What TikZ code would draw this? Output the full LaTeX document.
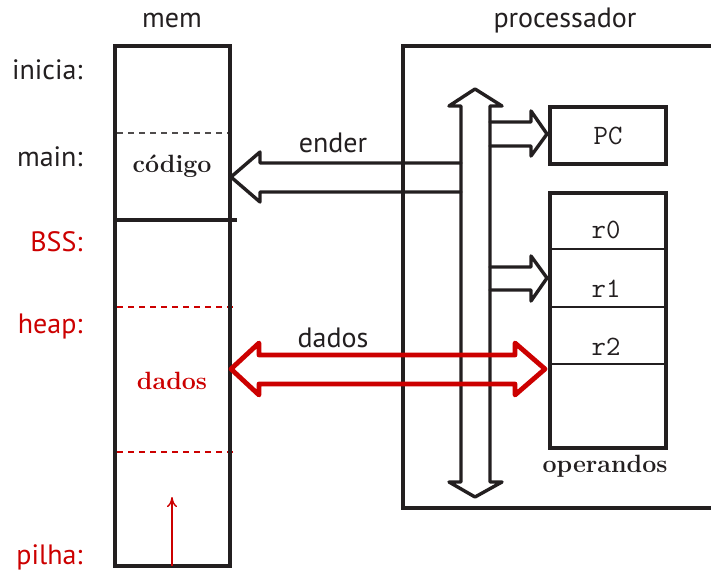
\documentclass[tikz,border=0pt]{standalone}
\usepackage{fontspec}
\setsansfont{PT Sans}
\usetikzlibrary{calc,arrows.meta}
\definecolor{ink}{RGB}{35,31,32}
\definecolor{rd}{RGB}{204,0,0}
\begin{document}
\begin{tikzpicture}[x=0.5pt,y=-0.5pt,
  lbl/.style={font=\sffamily\fontsize{14}{16}\selectfont, text=ink, inner sep=0pt},
  lblr/.style={lbl, anchor=east},
  seg/.style={font=\bfseries\fontsize{12.5}{14}\selectfont, text=ink, inner sep=0pt},
  reg/.style={font=\ttfamily\fontsize{14}{16}\selectfont, text=ink, inner sep=0pt},
  thick box/.style={draw=ink, line width=2pt},
  barrow/.style={draw=ink, line width=1.7pt, line join=round, line cap=round},
  rarrow/.style={draw=rd, line width=2.4pt, line join=round, line cap=round},
]
\useasboundingbox (0,0) rectangle (711,571);

% memory
\coordinate (memtl) at (115,46);
\coordinate (membr) at (230,566);
\draw[ink!80, line width=0.6pt, dash pattern=on 3pt off 2.5pt] (117,133) -- (228,133);
\draw[rd, line width=0.6pt, dash pattern=on 3pt off 2.5pt] (117,307) -- (234,307);
\draw[rd, line width=0.6pt, dash pattern=on 3pt off 2.5pt] (117,452) -- (236,452);
\draw[thick box, line cap=rect] (memtl) rectangle (membr);
\draw[thick box] (115,220) -- (237,220);
\coordinate (stk) at (172,566);
\coordinate (stktop) at (172,497);
\draw[rd, line width=0.7pt, -{To[length=5pt,width=5pt]}] (stk) -- (stktop);

\node[lbl] (memlbl) at (172,21) {mem};
\node[lbl] (proclbl) at (565,21) {processador};
\node[lblr] (inicia) at (83,70) {inicia:};
\node[lblr] (mainl) at (83,157) {main:};
\node[lblr, text=rd] (bss) at (83,242) {BSS:};
\node[lblr, text=rd] (heap) at (83,327) {heap:};
\node[lblr, text=rd] (pilha) at (83,557) {pilha:};
\node[seg] (codigo) at (172,166) {código};
\node[seg, text=rd] (dadosm) at (172,381) {dados};

% processor
\draw[thick box] (720,46) -- (403,46) -- (403,508) -- (720,508);
\node[thick box, minimum width=58pt, minimum height=28.5pt, inner sep=0pt, anchor=north west, reg] (pc) at (548,105) {PC};
\node[thick box, minimum width=58pt, minimum height=127.5pt, inner sep=0pt, anchor=north west] (regs) at (548,191) {};
\draw[ink, line width=1pt] (548,249) -- (664,249) (548,307) -- (664,307) (548,364) -- (664,364);
\node[reg] (r0) at (606,230) {r0};
\node[reg] (r1) at (606,289) {r1};
\node[reg] (r2) at (606,347) {r2};
\node[seg] (oper) at (605,466) {operandos};

% bus (vertical double arrow)
\draw[barrow] (461,106) -- (461,482) -- (449,482) -- (475,497) -- (502,482) -- (490,482)
  -- (490,106) -- (502,106) -- (475,89) -- (449,106) -- cycle;

% ender arrow: bus -> memory
\draw[barrow] (461,163) -- (260,163) -- (260,152) -- (231,177) -- (260,202) -- (260,192) -- (461,192);
\node[lbl] (ender) at (333,143) {ender};

% PC arrow
\draw[barrow] (490,122) -- (531,122) -- (531,111) -- (547,134) -- (531,156) -- (531,146) -- (490,146);
% r1 arrow
\draw[barrow] (490,267) -- (531,267) -- (531,256) -- (547,278) -- (531,301) -- (531,290) -- (490,290);

% dados arrow (double, red)
\draw[rarrow] (259,355) -- (515,355) -- (515,343) -- (545,369) -- (515,395) -- (515,384)
  -- (259,384) -- (259,395) -- (231,369) -- (259,343) -- cycle;
\node[lbl] (dadosl) at (333,338) {dados};
\end{tikzpicture}
\end{document}
